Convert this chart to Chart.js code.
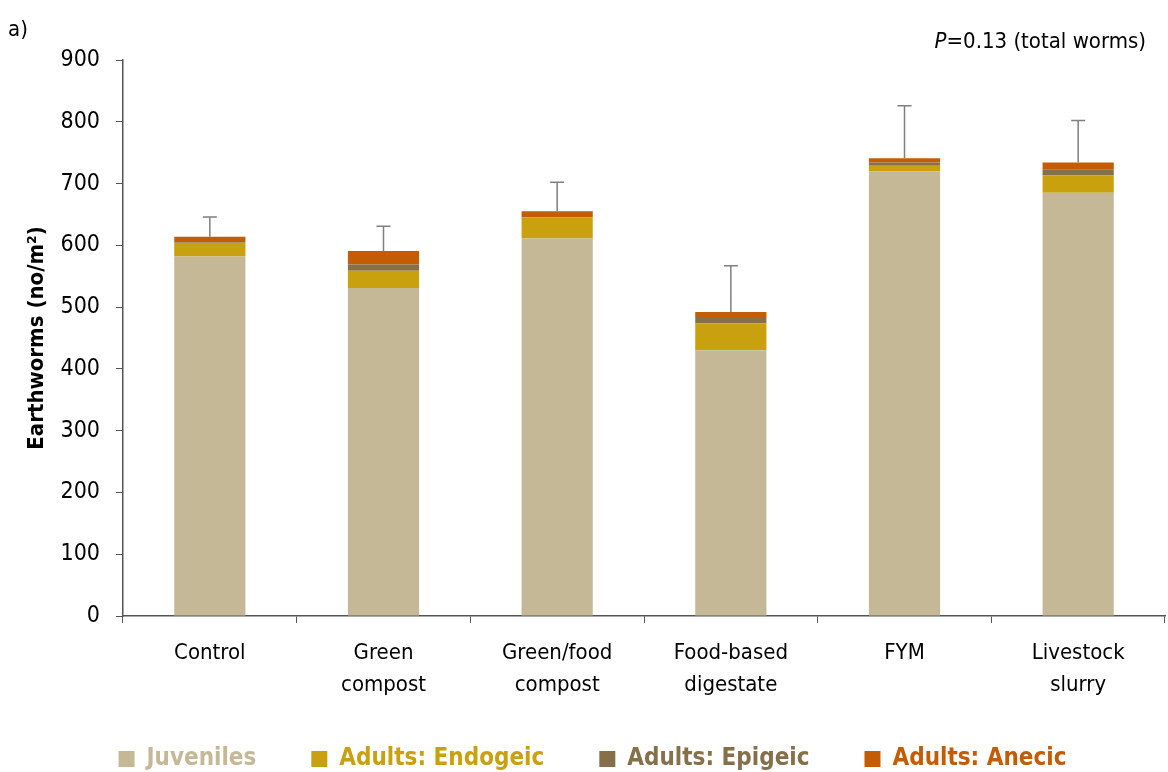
<!DOCTYPE html>
<html>
<head>
<meta charset="utf-8">
<script src="https://cdn.jsdelivr.net/npm/chart.js@4"></script>
<style>
  html, body { margin: 0; padding: 0; background: #fff; }
  #wrap { width: 1168px; height: 772px; }
</style>
</head>
<body>
<div id="wrap"><canvas id="chart" width="1168" height="772"></canvas></div>
<script>
const categories = ["Control", ["Green", "compost"], ["Green/food", "compost"], ["Food-based", "digestate"], "FYM", ["Livestock", "slurry"]];
const juveniles = [582, 531, 611, 430, 720, 685];
const endogeic = [22, 28, 34, 44, 9, 28];
const epigeic = [3, 10, 1, 10, 5, 10];
const anecic = [7, 22, 9, 8, 7, 11];
const errorUp = [32, 40, 47, 75, 85, 68];
const yTicks = [0, 100, 200, 300, 400, 500, 600, 700, 800, 900];

const font = "Tahoma, 'DejaVu Sans Condensed', 'DejaVu Sans', sans-serif";

const errorBars = {
  id: "errorBars",
  afterDatasetsDraw(chart) {
    const ctx = chart.ctx;
    const y = chart.scales.y;
    const meta = chart.getDatasetMeta(chart.data.datasets.length - 1);
    ctx.save();
    ctx.strokeStyle = "#7f7f7f";
    ctx.lineWidth = 1.5;
    categories.forEach((c, i) => {
      const total = juveniles[i] + endogeic[i] + epigeic[i] + anecic[i];
      const x = meta.data[i].x;
      const y0 = y.getPixelForValue(total);
      const y1 = y.getPixelForValue(total + errorUp[i]);
      ctx.beginPath();
      ctx.moveTo(x, y0);
      ctx.lineTo(x, y1);
      ctx.moveTo(x - 7, y1);
      ctx.lineTo(x + 7, y1);
      ctx.stroke();
    });
    ctx.restore();
  }
};

// let the two-line category labels run past the x scale box without clipping
const labelRoom = {
  id: "labelRoom",
  afterLayout(chart) {
    const x = chart.scales.x;
    x.bottom = x.top + 100;
  }
};

const extraText = {
  id: "extraText",
  afterDraw(chart) {
    const ctx = chart.ctx;
    ctx.save();
    ctx.fillStyle = "#000";
    ctx.textBaseline = "alphabetic";
    ctx.font = "22px " + font;
    ctx.textAlign = "left";
    ctx.fillText("a)", 8, 36);
    // P value note, right aligned
    const rest = "=0.13 (total worms)";
    const restW = ctx.measureText(rest).width;
    const right = 1146;
    ctx.fillText(rest, right - restW, 48);
    ctx.font = "italic 22px " + font;
    const pW = ctx.measureText("P").width;
    ctx.fillText("P", right - restW - pW, 48);
    ctx.restore();
  }
};

const colors = ["#c4b896", "#c9a00e", "#85704a", "#c45c05"];

new Chart(document.getElementById("chart"), {
  type: "bar",
  data: {
    labels: categories,
    datasets: [
      { label: "Juveniles", data: juveniles, backgroundColor: colors[0] },
      { label: "Adults: Endogeic", data: endogeic, backgroundColor: colors[1] },
      { label: "Adults: Epigeic", data: epigeic, backgroundColor: colors[2] },
      { label: "Adults: Anecic", data: anecic, backgroundColor: colors[3] }
    ]
  },
  options: {
    responsive: false,
    animation: false,
    layout: { padding: { top: 60, right: 3, left: 20, bottom: -9 } },
    datasets: { bar: { barPercentage: 0.41, categoryPercentage: 1 } },
    plugins: {
      tooltip: { enabled: false },
      legend: {
        position: "bottom",
        labels: {
          boxWidth: 16,
          boxHeight: 16,
          padding: 55,
          font: { family: font, size: 24, weight: "bold" },
          generateLabels(chart) {
            return chart.data.datasets.map((ds, i) => ({
              text: ds.label,
              fillStyle: ds.backgroundColor,
              strokeStyle: ds.backgroundColor,
              lineWidth: 0,
              fontColor: ds.backgroundColor,
              datasetIndex: i
            }));
          }
        }
      }
    },
    scales: {
      x: {
        stacked: true,
        grid: { offset: true, drawOnChartArea: false, drawTicks: true, tickLength: 7, color: "#555" },
        border: { color: "#555", width: 1.5 },
        ticks: { color: "#000", font: { family: font, size: 22, lineHeight: 1.45 }, padding: 14, maxRotation: 0, autoSkip: false },
        afterFit(scale) { scale.height = 76; }
      },
      y: {
        stacked: true,
        min: 0,
        max: 900,
        afterBuildTicks(scale) { scale.ticks = yTicks.map(v => ({ value: v })); },
        grid: { drawOnChartArea: false, drawTicks: true, tickLength: 7, color: "#555" },
        border: { color: "#555", width: 1.5 },
        ticks: { color: "#000", font: { family: font, size: 23 }, padding: 16 },
        title: {
          display: true,
          text: "Earthworms (no/m²)",
          color: "#000",
          font: { family: font, size: 22, weight: "bold" },
          padding: 4
        },
        afterFit(scale) { scale.width = 103; }
      }
    }
  },
  plugins: [errorBars, labelRoom, extraText]
});
</script>
</body>
</html>
